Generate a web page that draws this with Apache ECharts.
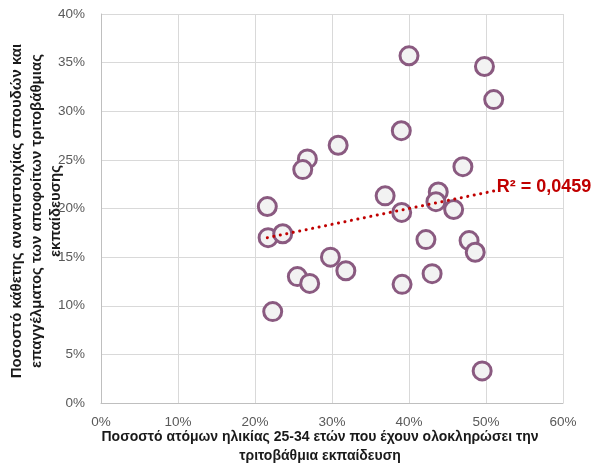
<!DOCTYPE html>
<html><head><meta charset="utf-8">
<script src="https://cdn.jsdelivr.net/npm/echarts@6/dist/echarts.min.js"></script>
<style>html,body{margin:0;padding:0;background:#fff}#c{width:599px;height:468px}</style>
</head><body><div id="c"></div>
<script>
// Tertiary attainment (25-34, %) vs vertical mismatch (%)
const xValues = [40.0, 49.8, 51.0, 39.0, 30.8, 26.8, 26.2, 47.0, 36.9, 43.8, 43.5, 45.8, 39.05, 21.6, 21.7, 23.6, 42.2, 47.8, 48.6, 29.8, 31.8, 25.5, 27.1, 43.0, 39.1, 22.3, 49.5];
const yValues = [35.7, 34.6, 31.2, 28.0, 26.5, 25.1, 24.0, 24.3, 21.3, 21.7, 20.7, 19.9, 19.6, 20.2, 17.0, 17.4, 16.8, 16.7, 15.5, 15.0, 13.6, 13.0, 12.3, 13.3, 12.2, 9.4, 3.3];
const trendX = [21.6, 51.0];
const trendY = [17.0, 21.8];
const r2Label = 'R² = 0,0459';
const xTitle = ['Ποσοστό ατόμων ηλικίας 25-34 ετών που έχουν ολοκληρώσει την', 'τριτοβάθμια εκπαίδευση'];
const yTitle = ['Ποσοστό κάθετης αναντιστοιχίας σπουδών και', 'επαγγέλματος των αποφοίτων τριτοβάθμιας', 'εκπαίδευσης'];

const FONT = 'Liberation Sans';
const chart = echarts.init(document.getElementById('c'));
const pts = xValues.map((x, i) => [x, yValues[i]]);
const trend = trendX.map((x, i) => [x, trendY[i]]);
chart.setOption({
  animation: false,
  grid: {left: 101, top: 14, right: 36, bottom: 65, containLabel: false},
  xAxis: {type: 'value', min: 0, max: 60, interval: 10,
    axisLine: {show: true, lineStyle: {color: '#BFBFBF'}}, axisTick: {show: false},
    splitLine: {show: true, lineStyle: {color: '#D9D9D9'}},
    axisLabel: {formatter: v => v + '%', color: '#595959', fontSize: 13.5, fontFamily: FONT, margin: 12}},
  yAxis: {type: 'value', min: 0, max: 40, interval: 5,
    axisLine: {show: true, lineStyle: {color: '#BFBFBF'}}, axisTick: {show: false},
    splitLine: {show: true, lineStyle: {color: '#D9D9D9'}},
    axisLabel: {formatter: v => v + '%', color: '#595959', fontSize: 13.5, fontFamily: FONT, margin: 16}},
  series: [
    {type: 'line', data: trend, symbol: 'none', z: 3,
      lineStyle: {color: '#C00000', width: 3, type: [0.1, 6.5], cap: 'round'},
      endLabel: {show: true, formatter: r2Label, color: '#C00000', fontSize: 18, fontWeight: 'bold', fontFamily: FONT, distance: 3, offset: [0, -4]}},
    {type: 'scatter', data: pts, symbol: 'circle', symbolSize: 18, z: 2,
      itemStyle: {color: '#F2F2F2', borderColor: '#8A5A80', borderWidth: 3, opacity: 1}}
  ],
  graphic: [
    {type: 'text', x: 320, y: 430, style: {text: xTitle[0], font: 'bold 14px ' + FONT, fill: '#1a1a1a', textAlign: 'center'}},
    {type: 'text', x: 320, y: 449, style: {text: xTitle[1], font: 'bold 14px ' + FONT, fill: '#1a1a1a', textAlign: 'center'}},
    {type: 'group', x: 17, y: 211, rotation: Math.PI / 2, children: yTitle.map((t, i) => ({
      type: 'text', x: 0, y: 19.5 * i, style: {text: t, font: 'bold 15px ' + FONT, fill: '#1a1a1a', textAlign: 'center', textVerticalAlign: 'middle'}
    }))}
  ]
});
</script></body></html>
